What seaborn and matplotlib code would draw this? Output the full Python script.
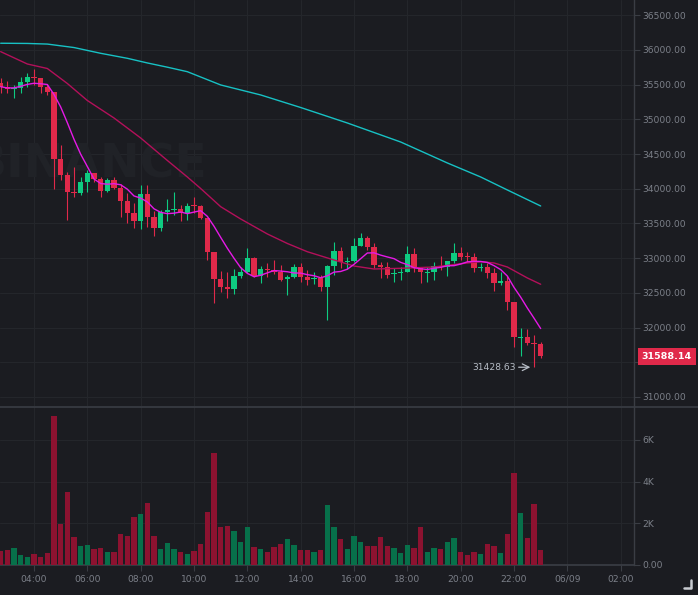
import matplotlib
matplotlib.use("Agg")
import matplotlib.pyplot as plt
import matplotlib.transforms as mtransforms
import numpy as np
import pandas as pd
import seaborn as sns
from matplotlib.lines import Line2D

sns.set_theme(style="dark")
plt.rcParams["font.family"] = ["DejaVu Sans"]

_bg = "#1b1c21"
_grid = "#24262b"
_axis = "#3a3d44"
_label = "#7c8089"
_up = "#0ecb81"
_down = "#e0294a"
_vol_up = "#07704a"
_vol_down = "#8c1230"
_ma7 = "#e619e6"
_ma25 = "#b3105a"
_ma99 = "#17c1c4"

# 15 minute candles, 02:45 .. 23:00
opens = [35529, 35471, 35434, 35457, 35543, 35615, 35601, 35471, 35395, 34429,
         34199, 33954, 33945, 34102, 34223, 34137, 33972, 34127, 34016, 33828,
         33655, 33540, 33921, 33589, 33431, 33661, 33694, 33704, 33655, 33762,
         33748, 33575, 33085, 32700, 32581, 32560, 32743, 32801, 32998, 32748,
         32844, 32825, 32796, 32700, 32725, 32877, 32733, 32696, 32719, 32589,
         32887, 33104, 32941, 32959, 33180, 33287, 33157, 32902, 32873, 32768,
         32791, 32805, 33060, 32854, 32782, 32805, 32892, 32877, 32964, 33070,
         33021, 33013, 32854, 32869, 32782, 32638, 32671, 32373, 31854, 31869,
         31773, 31759]
highs = [35597, 35558, 35496, 35607, 35664, 35722, 35601, 35510, 35395, 34631,
         34246, 34310, 34174, 34271, 34227, 34174, 34156, 34166, 34069, 33935,
         33800, 34055, 34055, 33680, 33694, 33849, 33949, 33766, 33791, 33877,
         33766, 33575, 33093, 32820, 32805, 32840, 32869, 33142, 33021, 32887,
         32935, 32974, 32902, 32758, 32912, 32926, 32830, 32805, 32758, 32902,
         33229, 33165, 33021, 33287, 33359, 33324, 33215, 32949, 32949, 32863,
         32877, 33176, 33142, 32877, 32877, 32949, 33036, 32964, 33215, 33165,
         33093, 33070, 32926, 32926, 32854, 32805, 32748, 32373, 31990, 31975,
         31893, 31797]
lows = [35380, 35376, 35313, 35376, 35462, 35496, 35385, 35352, 33993, 34127,
        33550, 33886, 33911, 33958, 34102, 33886, 33954, 33993, 33598, 33503,
        33431, 33416, 33454, 33320, 33396, 33540, 33627, 33540, 33550, 33647,
        33560, 32974, 32350, 32517, 32422, 32484, 32710, 32791, 32733, 32647,
        32733, 32768, 32671, 32470, 32710, 32661, 32614, 32624, 32527, 32109,
        32758, 32863, 32844, 32941, 33180, 33118, 32854, 32710, 32710, 32661,
        32686, 32796, 32796, 32638, 32661, 32686, 32830, 32748, 32935, 32974,
        32949, 32805, 32815, 32710, 32527, 32614, 32253, 31724, 31595, 31749,
        31428.63, 31557]
closes = [35471, 35434, 35457, 35543, 35615, 35601, 35471, 35395, 34429, 34199,
          33958, 33939, 34102, 34223, 34137, 33972, 34127, 34016, 33828, 33655,
          33540, 33921, 33589, 33431, 33661, 33694, 33704, 33655, 33756, 33748,
          33575, 33085, 32700, 32581, 32560, 32743, 32801, 32998, 32748, 32844,
          32825, 32796, 32686, 32733, 32877, 32733, 32686, 32719, 32589, 32887,
          33104, 32941, 32959, 33180, 33287, 33165, 32902, 32873, 32758, 32787,
          32805, 33060, 32854, 32796, 32796, 32887, 32877, 32964, 33070, 33021,
          33013, 32854, 32869, 32782, 32638, 32671, 32373, 31869, 31869, 31773,
          31759, 31588.14]
volumes = [671, 719, 831, 496, 400, 528, 368, 576, 7146, 1950,
           3501, 1343, 911, 943, 767, 831, 623, 607, 1471, 1391,
           2302, 2446, 2974, 1391, 783, 1039, 751, 623, 544, 655,
           1007, 2542, 5372, 1806, 1870, 1646, 1103, 1806, 879, 767,
           607, 863, 991, 1247, 943, 703, 735, 607, 719, 2862,
           1806, 1231, 751, 1391, 1103, 927, 927, 1327, 911, 799,
           576, 975, 815, 1838, 623, 831, 783, 1103, 1295, 607,
           480, 623, 528, 991, 927, 576, 1487, 4397, 2494, 1279,
           2942, 719]

# moving averages (candle index, price)
ma25_idx = [0, 4, 7, 10, 13, 17, 21, 25, 28, 30, 33, 36, 40, 43, 46, 50, 53,
            56, 60, 65, 70, 72, 74, 76, 79, 81]
ma25_val = [35976, 35798, 35733, 35517, 35272, 35020, 34732, 34408, 34170,
            34004, 33742, 33565, 33349, 33212, 33093, 32974, 32887, 32844,
            32854, 32873, 32931, 32949, 32931, 32873, 32715, 32624]
ma99_idx = [0, 4, 7, 11, 15, 19, 22, 25, 28, 33, 39, 45, 52, 60, 67, 72, 76, 81]
ma99_val = [36097, 36094, 36085, 36035, 35952, 35880, 35813, 35752, 35687,
            35496, 35352, 35171, 34948, 34674, 34372, 34170, 33983, 33752]

tick_labels = ["04:00", "06:00", "08:00", "10:00", "12:00", "14:00", "16:00",
               "18:00", "20:00", "22:00", "06/09", "02:00"]
price_ticks = [31000, 31500, 32000, 32500, 33000, 33500, 34000, 34500, 35000,
               35500, 36000, 36500]
vol_ticks = [0, 2000, 4000, 6000]
vol_tick_labels = ["0.00", "2K", "4K", "6K"]

df = pd.DataFrame({"open": opens, "high": highs, "low": lows,
                   "close": closes, "volume": volumes})
df["idx"] = np.arange(len(df))
df["up"] = df["close"] >= df["open"]
df["ma7"] = df["close"].rolling(7, min_periods=1).mean()

fig = plt.figure(figsize=(6.98, 5.95), dpi=100, facecolor=_bg)
W, H = 698, 595
ax = fig.add_axes([0, 1 - 406 / H, 634 / W, 406 / H], facecolor=_bg)
axv = fig.add_axes([0, 1 - 565 / H, 634 / W, 158 / H], facecolor=_bg)

xlim = (-0.1, 95.0)
xticks = [5 + 8 * k for k in range(len(tick_labels))]

for a in (ax, axv):
    a.set_xlim(*xlim)
    a.set_xticks(xticks)
    a.grid(True, color=_grid, linewidth=0.8)
    a.set_axisbelow(True)
    for side in ("left", "top", "bottom"):
        a.spines[side].set_visible(False)
    a.spines["right"].set_color(_axis)
    a.spines["right"].set_linewidth(1)
    a.yaxis.tick_right()
    a.tick_params(axis="y", colors=_axis, labelcolor=_label, labelsize=6.6,
                  length=4, width=0.8, pad=2, direction="out", right=True)

ax.tick_params(axis="x", length=0, labelbottom=False)
axv.spines["bottom"].set_visible(True)
axv.spines["bottom"].set_color(_axis)
axv.tick_params(axis="x", colors=_axis, labelcolor=_label, labelsize=6.6,
                length=4, width=0.8, pad=3, bottom=True)
axv.set_xticklabels(tick_labels)

# candles
colors = np.where(df["up"], _up, _down)
ax.vlines(df["idx"], df["low"], df["high"], colors=colors, linewidth=0.8, zorder=2)
body_lo = np.minimum(df["open"], df["close"])
body_h = np.maximum(np.abs(df["close"] - df["open"]), 12)
ax.bar(df["idx"], body_h, bottom=body_lo, width=0.78, color=colors,
       linewidth=0, zorder=3)

sns.lineplot(x=ma99_idx, y=ma99_val, ax=ax, color=_ma99, linewidth=1.0, zorder=4)
sns.lineplot(x=ma25_idx, y=ma25_val, ax=ax, color=_ma25, linewidth=1.0, zorder=4)
sns.lineplot(data=df, x="idx", y="ma7", ax=ax, color=_ma7, linewidth=1.0, zorder=5)

last = df["close"].iloc[-1]
ax.set_ylim(30870, 36720)
ax.set_yticks(price_ticks)
# the last-price tag covers the nearest tick label
ax.set_yticklabels(["" if abs(p - last) < 250 else f"{p:.2f}" for p in price_ticks])
ax.set_xlabel("")
ax.set_ylabel("")

# watermark
ax.text(207 / 634, 1 - 165 / 406, "BINANCE", transform=ax.transAxes,
        ha="right", va="center", fontsize=34, fontweight="bold",
        color="#202227", zorder=1)

# lowest price marker
low_i = int(np.argmin(df["low"]))
low_v = df["low"].iloc[low_i]
ax.annotate("", xy=(low_i - 0.55, low_v), xytext=(low_i - 2.3, low_v),
            arrowprops=dict(arrowstyle="->", color="#b7bdc6", lw=0.9,
                            shrinkA=0, shrinkB=0), zorder=6)
ax.text(low_i - 2.8, low_v, f"{low_v:.2f}", ha="right", va="center",
        fontsize=6.6, color="#b7bdc6", zorder=6)

# last price label
trans = mtransforms.blended_transform_factory(ax.transAxes, ax.transData)
ax.text(1.012, last, f"{last:.2f}", transform=trans, ha="left", va="center",
        fontsize=6.8, fontweight="bold", color="white", clip_on=False,
        bbox=dict(boxstyle="square,pad=0.42", facecolor=_down, edgecolor="none"),
        zorder=7)

# volume
vcolors = np.where(df["up"], _vol_up, _vol_down)
axv.bar(df["idx"], df["volume"], width=0.78, color=vcolors, linewidth=0, zorder=3)
axv.set_ylim(0, 7578)
axv.set_yticks(vol_ticks)
axv.set_yticklabels(vol_tick_labels)
axv.set_xlabel("")
axv.set_ylabel("")

# pane separator and corner mark
fig.add_artist(Line2D([0, 1], [1 - 406.5 / H, 1 - 406.5 / H], color=_axis,
                      linewidth=1.2, transform=fig.transFigure))
fig.add_artist(Line2D([691 / W, 691 / W, 684 / W], [1 - 580 / H, 1 - 588 / H, 1 - 588 / H],
                      color="#c9ccd1", linewidth=1.8, transform=fig.transFigure))

fig.savefig("out.png", dpi=100, facecolor=_bg)
